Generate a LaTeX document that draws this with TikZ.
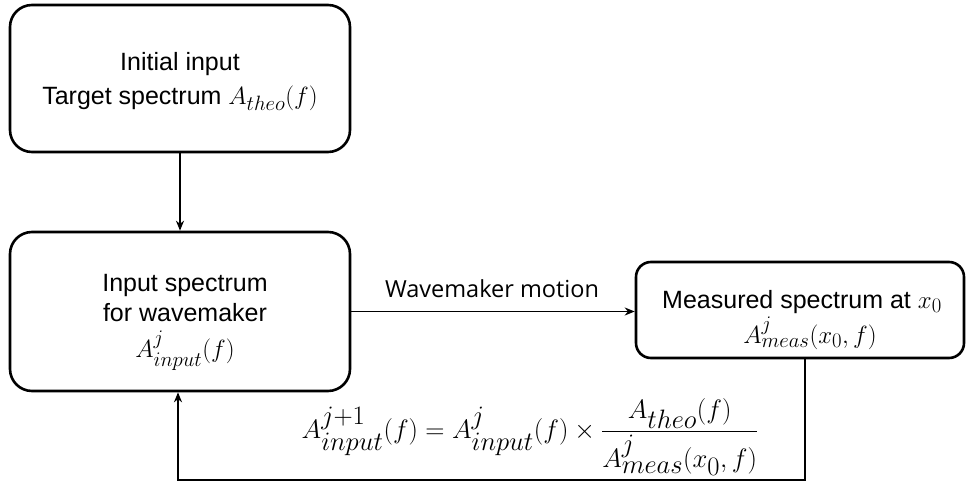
\documentclass[tikz,border=0pt]{standalone}
\usepackage{amsmath}
\usepackage{graphicx}
\usepackage{fontspec}
\setmainfont{Liberation Sans}
\newfontfamily\labelfont{Open Sans}
\DeclareMathSizes{25}{28}{20.5}{16}
\DeclareMathSizes{28}{34.5}{26.5}{20}
\usetikzlibrary{arrows.meta}
\begin{document}
\begin{tikzpicture}[x=1pt,y=-1pt,
  box/.style={draw, line width=2.6pt, rounded corners=22pt, inner sep=0pt},
  arr/.style={line width=1.8pt, -{Stealth[length=10pt,width=8pt]}},
  txt/.style={font=\fontsize{25}{30}\selectfont, anchor=base, inner sep=0pt}]
\useasboundingbox (0,0) rectangle (966,486);
% boxes
\node[box, minimum width=340pt, minimum height=147pt] (init) at (180,78.5) {};
\node[box, minimum width=340pt, minimum height=159pt] (inp) at (180,311.5) {};
\node[box, rounded corners=15pt, minimum width=328pt, minimum height=96pt] (meas) at (800,310) {};
% texts
\node[txt] (t1) at (180,71) {Initial input};
\node[txt] (t2) at (180,105) {Target spectrum $A_{theo}(f)$};
\node[txt] (t3) at (185,291) {Input spectrum};
\node[txt] (t4) at (185,321) {for wavemaker};
\node[txt] (t5) at (185,357) {$A^{j}_{input}(f)$};
\node[txt] (t6) at (802,308) {Measured spectrum at $x_0$};
\node[txt] (t7) at (810,343) {$A^{j}_{meas}(x_0,f)$};
\node[font=\labelfont\fontsize{23.5}{28}\selectfont, anchor=base, inner sep=0pt] (wm) at (492,298) {Wavemaker motion};
\node[font=\fontsize{28}{32}\selectfont, inner sep=0pt] (eq) at (530,437)
  {\scalebox{1.07}{$\displaystyle A^{j+1}_{input}(f)=A^{j}_{input}(f)\times\frac{A_{theo}(f)}{A^{j}_{meas}(x_0,f)}$}};
% connectors
\coordinate (c1) at (805,480);
\coordinate (c2) at (178,480);
\draw[arr] (init) -- (inp);
\draw[arr] (inp.east) -- (inp.east -| meas.west);
\draw[arr] (meas.south -| c1) -- (c1) -- (c2) -- (inp.south -| c2);
\end{tikzpicture}
\end{document}
